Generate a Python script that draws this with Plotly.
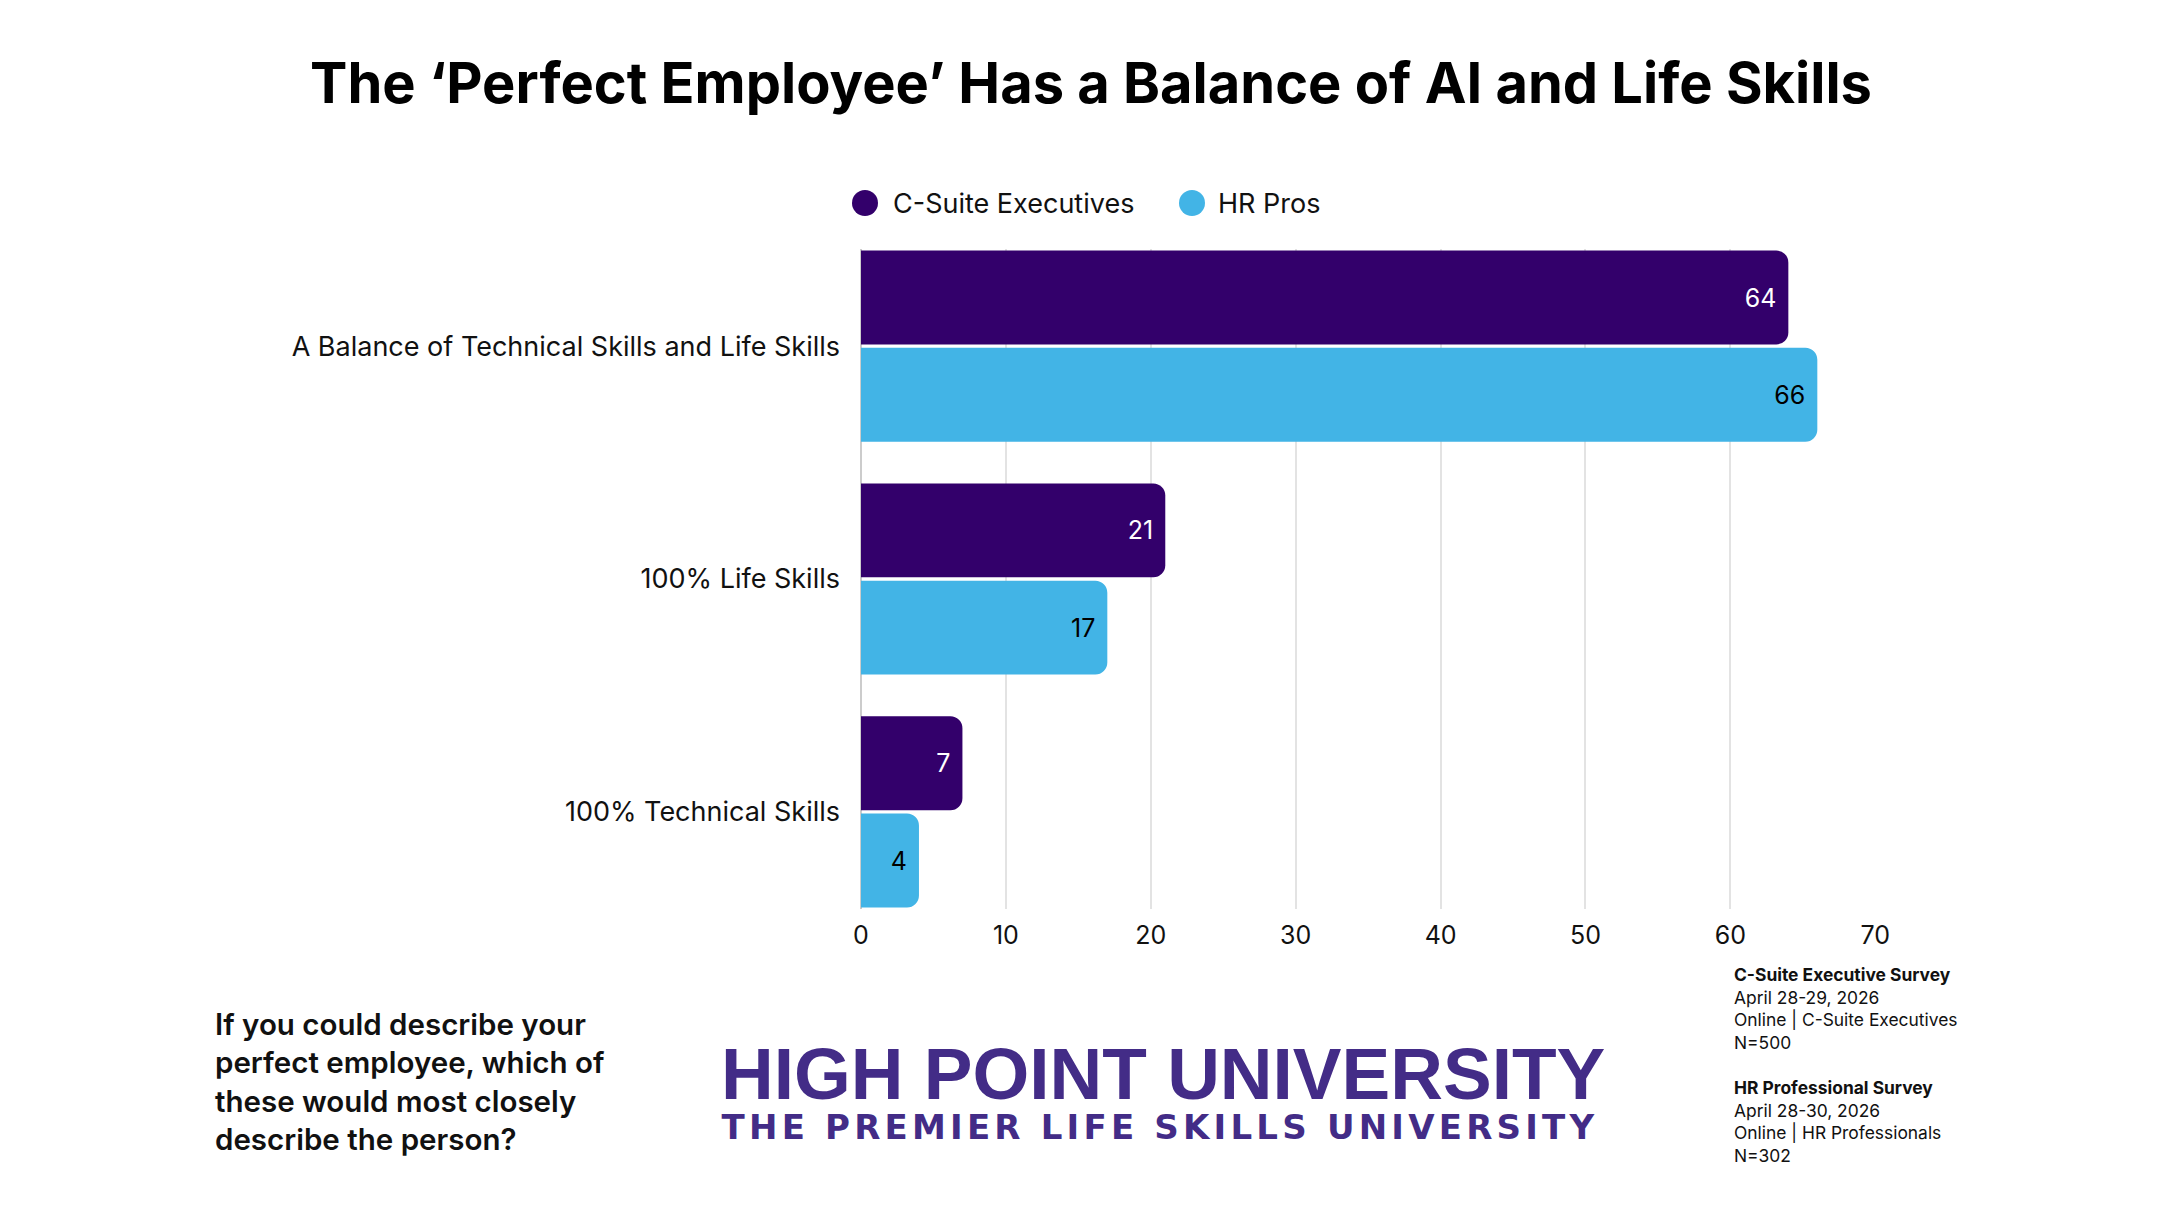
import plotly.graph_objects as go

categories = ["A Balance of Technical Skills and Life Skills", "100% Life Skills", "100% Technical Skills"]
series_names = ["C-Suite Executives", "HR Pros"]
csuite_values = [64, 21, 7]
hr_values = [66, 17, 4]
x_ticks = [0, 10, 20, 30, 40, 50, 60, 70]

PURPLE = "#33006B"
BLUE = "#42B4E6"
LOGO = "#432C87"
FONT = "Inter"

W, H = 2160, 1215
L, R, T, B = 861, 284, 249, 306

fig = go.Figure()
fig.add_trace(go.Bar(
    y=categories, x=csuite_values, name=series_names[0], orientation="h",
    marker=dict(color=PURPLE, line=dict(width=0)),
    text=[str(v) for v in csuite_values], textposition="inside", insidetextanchor="end",
    textfont=dict(color="white", size=25, family=FONT), constraintext="none",
    showlegend=False, hoverinfo="x+name"))
fig.add_trace(go.Bar(
    y=categories, x=hr_values, name=series_names[1], orientation="h",
    marker=dict(color=BLUE, line=dict(width=0)),
    text=[str(v) for v in hr_values], textposition="inside", insidetextanchor="end",
    textfont=dict(color="black", size=25, family=FONT), constraintext="none",
    showlegend=False, hoverinfo="x+name"))

pw = W - L - R
ph = H - T - B

def px_x(x):
    return (x - L) / pw

def px_y(y):
    return (H - B - y) / ph

annotations = []
shapes = []
# manual legend with round markers
leg_items = [(series_names[0], PURPLE, 865, 891), (series_names[1], BLUE, 1192, 1216)]
for name, col, cx, tx in leg_items:
    r = 13
    shapes.append(dict(type="circle", xref="paper", yref="paper",
                       x0=px_x(cx - r), x1=px_x(cx + r), y0=px_y(203 + r), y1=px_y(203 - r),
                       fillcolor=col, line=dict(width=0)))
    annotations.append(dict(text=name, xref="paper", yref="paper", x=px_x(tx), y=px_y(203),
                            xanchor="left", yanchor="middle", showarrow=False,
                            font=dict(size=27, family=FONT, color="#111111")))

# question text
annotations.append(dict(
    text="If you could describe your<br>perfect employee, which of<br>these would most closely<br>describe the person?",
    xref="paper", yref="paper", x=px_x(213), y=px_y(1081), xanchor="left", yanchor="middle",
    align="left", showarrow=False, font=dict(size=29.5, family=FONT, color="#111111", weight=600)))

# logo text
annotations.append(dict(text="HIGH POINT UNIVERSITY", xref="paper", yref="paper",
                        x=px_x(1163), y=px_y(1073), xanchor="center", yanchor="middle", showarrow=False,
                        font=dict(size=73, family="Liberation Sans", color=LOGO, weight=700)))
annotations.append(dict(text="THE PREMIER LIFE SKILLS UNIVERSITY", xref="paper", yref="paper",
                        x=px_x(1160), y=px_y(1127), xanchor="center", yanchor="middle", showarrow=False,
                        font=dict(size=34, family="DejaVu Sans", color=LOGO, weight=700)))

# survey notes
annotations.append(dict(
    text="<b>C-Suite Executive Survey</b><br>April 28-29, 2026<br>Online | C-Suite Executives<br>N=500<br> <br>"
         "<b>HR Professional Survey</b><br>April 28-30, 2026<br>Online | HR Professionals<br>N=302",
    xref="paper", yref="paper", x=px_x(1732), y=px_y(962), xanchor="left", yanchor="top",
    align="left", showarrow=False, font=dict(size=17.4, family=FONT, color="#111111")))

fig.update_layout(
    width=W, height=H,
    margin=dict(l=L, r=R, t=T, b=B, pad=0),
    paper_bgcolor="white", plot_bgcolor="white",
    barmode="group", bargap=0.165, bargroupgap=0.035, barcornerradius=12,
    title=dict(text="<b>The ‘Perfect Employee’ Has a Balance of AI and Life Skills</b>",
               x=1091 / W, xanchor="center", y=1 - 83 / H, yanchor="middle",
               font=dict(size=56, family=FONT, color="black", weight=900)),
    xaxis=dict(range=[0, 70.05], tickvals=x_ticks, ticktext=[str(t) for t in x_ticks],
               showgrid=True, gridcolor="#E3E3E3", gridwidth=1.5, zeroline=True,
               zerolinecolor="#CCCCCC", zerolinewidth=1.5,
               tickfont=dict(size=25, family=FONT, color="#111111"), ticks="",
               ticklabelstandoff=9, showline=False, fixedrange=True),
    yaxis=dict(categoryorder="array", categoryarray=categories, autorange=False,
               range=[2.417, -0.417], showgrid=False, zeroline=False, ticks="",
               ticklabelstandoff=20,
               tickfont=dict(size=27, family=FONT, color="#111111"), fixedrange=True),
    annotations=annotations, shapes=shapes,
    showlegend=False,
)

post_script = """
var gd = document.getElementById('{plot_id}');
function hpuSpacing(){
  gd.querySelectorAll('.annotation-text').forEach(function(t){
    if (t.textContent.indexOf('PREMIER') >= 0) { t.style.letterSpacing = '4.2px'; }
  });
}
hpuSpacing();
if (gd.on) { gd.on('plotly_afterplot', hpuSpacing); }
"""

fig.write_html("out.html", post_script=post_script)
